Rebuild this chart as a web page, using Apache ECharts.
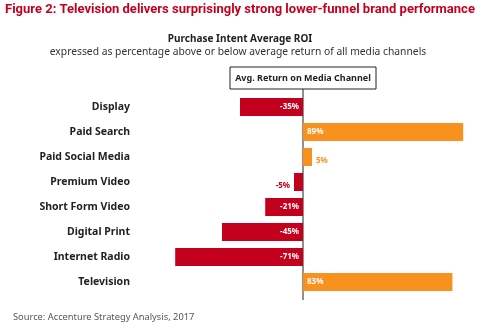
<!DOCTYPE html>
<html>
<head>
<meta charset="utf-8">
<script src="https://cdn.jsdelivr.net/npm/echarts@6/dist/echarts.min.js"></script>
<style>
html,body{margin:0;padding:0;background:#fff;}
#main{width:488px;height:328px;}
</style>
</head>
<body>
<div id="main"></div>
<script>
const categories = ['Display','Paid Search','Paid Social Media','Premium Video','Short Form Video','Digital Print','Internet Radio','Television'];
const values = [-35, 89, 5, -5, -21, -45, -71, 83];
const titleText = 'Figure 2: Television delivers surprisingly strong lower-funnel brand performance';
const subTitle1 = 'Purchase Intent Average ROI';
const subTitle2 = 'expressed as percentage above or below average return of all media channels';
const boxText = 'Avg. Return on Media Channel';
const sourceText = 'Source: Accenture Strategy Analysis, 2017';

const RED = '#c4001f';
const ORANGE = '#f7921e';
const FONT = '"Noto Sans", Roboto, sans-serif';

function fitSize(text, weight, family, targetW) {
  const ctx = document.createElement('canvas').getContext('2d');
  ctx.font = weight + ' 100px ' + family;
  return 100 * targetW / ctx.measureText(text).width;
}
const titleSize = fitSize(titleText, 'bold', 'Roboto', 470);

const data = values.map(v => {
  const color = v < 0 ? RED : ORANGE;
  const small = Math.abs(v) < 10;
  return {
    value: v,
    itemStyle: { color: color },
    label: small
      ? { position: v < 0 ? 'left' : 'right', color: color, offset: [0, 4] }
      : { position: v < 0 ? 'insideRight' : 'insideLeft', color: '#fff' }
  };
});

const chart = echarts.init(document.getElementById('main'), null, { renderer: 'canvas' });
chart.setOption({
  animation: false,
  backgroundColor: '#fff',
  grid: { left: 159, right: 5, top: 94.5, bottom: 33.5 },
  xAxis: {
    type: 'value', min: -80, max: 100, show: false
  },
  yAxis: {
    type: 'category', data: categories, inverse: true,
    axisLine: { show: false, onZero: false }, axisTick: { show: false },
    axisLabel: { fontFamily: FONT, fontWeight: 'bold', fontSize: 10.5, color: '#222', margin: 29 }
  },
  series: [{
    type: 'bar', data: data, barWidth: 18,
    label: {
      show: true, fontFamily: FONT, fontWeight: 'bold', fontSize: 8,
      formatter: p => p.value + '%', distance: 4
    }
  }]
});

const x0 = chart.convertToPixel({ gridIndex: 0 }, [0, 0])[0];
const boxW = 146, boxH = 22, boxTop = 67;
chart.setOption({
  graphic: [
    { type: 'text', x: 5, y: 10, style: { text: titleText, fill: '#c4001f', font: 'bold ' + titleSize.toFixed(2) + 'px Roboto', verticalAlign: 'middle' } },
    { type: 'text', x: 240, y: 39, style: { text: subTitle1, fill: '#222', font: 'bold 10px ' + FONT, align: 'center', verticalAlign: 'middle' } },
    { type: 'text', x: 238, y: 52, style: { text: subTitle2, fill: '#333', font: '10.3px ' + FONT, align: 'center', verticalAlign: 'middle' } },
    { type: 'line', shape: { x1: x0, y1: boxTop + boxH, x2: x0, y2: 300 }, style: { stroke: '#222', lineWidth: 1 } },
    { type: 'rect', shape: { x: x0 - boxW / 2, y: boxTop, width: boxW, height: boxH }, style: { fill: '#fff', stroke: '#222', lineWidth: 1 } },
    { type: 'text', x: x0, y: boxTop + boxH / 2, style: { text: boxText, fill: '#222', font: 'bold 9px ' + FONT, align: 'center', verticalAlign: 'middle' } },
    { type: 'text', x: 13, y: 317, style: { text: sourceText, fill: '#555', font: '9.3px ' + FONT, verticalAlign: 'middle' } }
  ]
});
</script>
</body>
</html>
